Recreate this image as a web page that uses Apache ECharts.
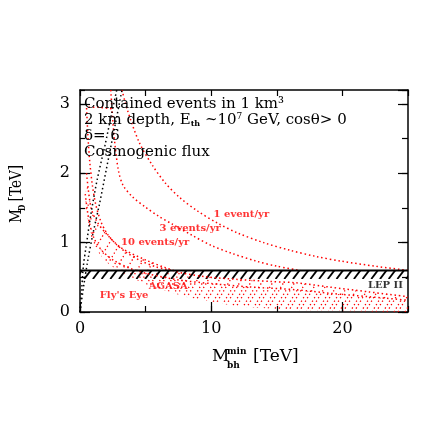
<!DOCTYPE html>
<html><head><meta charset="utf-8">
<script src="https://cdn.jsdelivr.net/npm/echarts@6/dist/echarts.min.js"></script>
<style>html,body{margin:0;padding:0;background:#fff}#c{width:431px;height:431px}</style>
</head><body><div id="c"></div>
<script>
// ---- data ----
const oneEventX = [3.2, 3.6, 4.5, 5.5, 6.5, 7.6, 9, 10.5, 12, 14, 16, 18, 20, 22.5, 25];
const oneEventY = [3.2, 2.92, 2.45, 2.12, 1.86, 1.65, 1.45, 1.28, 1.14, 1.0, 0.89, 0.8, 0.73, 0.66, 0.6];
const threeEventsX = [2.35, 2.5, 2.7, 2.95, 3.3, 4.0, 5.0, 6.0, 7.0, 8.5, 10, 11.5, 13.5, 15, 16.8];
const threeEventsY = [3.2, 2.75, 2.35, 2.02, 1.82, 1.66, 1.51, 1.38, 1.27, 1.11, 0.96, 0.85, 0.73, 0.66, 0.6];
const tenEventsX = [2.4, 1.4, 0.5, 0.6, 0.75, 0.95, 1.2, 1.6, 2.1, 2.8, 3.6, 4.6, 5.8, 7.0];
const tenEventsY = [2.93, 2.95, 2.95, 2.55, 2.15, 1.82, 1.55, 1.3, 1.12, 0.97, 0.85, 0.74, 0.65, 0.6];
const agasaX = [0.5, 0.84, 1.3, 1.9, 3.1, 5.0, 6.5, 7.6, 9.5, 12, 14.5, 16.5, 19, 22, 25];
const agasaY = [2.0, 1.5, 1.3, 1.15, 0.93, 0.75, 0.64, 0.57, 0.51, 0.47, 0.44, 0.42, 0.36, 0.29, 0.22];
const flyEyeX = [0.4, 0.7, 1.1, 1.7, 2.6, 3.8, 5.2, 7.6, 10, 13, 16.5, 19, 22, 25];
const flyEyeY = [1.7, 1.3, 1.05, 0.88, 0.74, 0.63, 0.55, 0.46, 0.41, 0.36, 0.32, 0.27, 0.22, 0.17];
const hatchFloorX = [0.4, 1, 2, 3, 5, 8, 12, 17, 25];
const hatchFloorY = [1.5, 0.95, 0.72, 0.58, 0.4, 0.22, 0.08, 0.02, 0];
const blackAX = [0, 0.3, 0.6, 1.0, 1.5, 2.0, 2.6, 3.2];
const blackAY = [0, 0.4, 0.75, 1.14, 1.57, 2.05, 2.62, 3.2];
const blackBX = [0, 0.12, 0.25, 0.46, 0.84, 1.3, 1.9, 2.4, 2.8];
const blackBY = [0, 0.3, 0.65, 0.94, 1.42, 1.9, 2.4, 2.85, 3.2];
const lepX = [0, 25];
const lepY = [0.6, 0.6];
const lepFloorY = [0.475, 0.475];
const xTicks = [0, 10, 20];
const yTicks = [0, 1, 2, 3];
const annotations = [
  {name: '1 event/yr', x: 12.3, y: 1.40, color: '#f00'},
  {name: '3 events/yr', x: 8.4, y: 1.20, color: '#f00'},
  {name: '10 events/yr', x: 5.73, y: 1.01, color: '#f00'},
  {name: 'AGASA', x: 6.72, y: 0.375, color: '#f00'},
  {name: "Fly's Eye", x: 3.36, y: 0.245, color: '#f00'},
  {name: 'LEP II', x: 23.28, y: 0.39, color: '#000'}
];

// ---- chart ----
const FONT = '"DejaVu Serif"';
const chart = echarts.init(document.getElementById('c'), null, {renderer: 'canvas'});

function curve(xs, ys, color) {
  return {
    type: 'line', xAxisIndex: 0, yAxisIndex: 0,
    data: xs.map((x, i) => [x, ys[i]]),
    symbol: 'none', showSymbol: false, smooth: 0.3, silent: true, clip: true, z: 4,
    lineStyle: {color: color, width: 1.5, type: [1.5, 2.8]}
  };
}

function hatch(upX, upY, loX, loY, o) {
  return {
    type: 'custom', xAxisIndex: 0, yAxisIndex: 0, data: [0], clip: true, silent: true, z: 3,
    renderItem: function (params, api) {
      const up = upX.map((x, i) => api.coord([x, upY[i]]));
      const lo = loX.map((x, i) => api.coord([x, loY[i]])).reverse();
      const poly = up.concat(lo);
      let x0 = Infinity, x1 = -Infinity, y0 = Infinity, y1 = -Infinity;
      poly.forEach(p => {
        x0 = Math.min(x0, p[0]); x1 = Math.max(x1, p[0]);
        y0 = Math.min(y0, p[1]); y1 = Math.max(y1, p[1]);
      });
      const h = y1 - y0, children = [];
      for (let s = x0 - h * o.slant + o.offset; s <= x1 + 1; s += o.spacing) {
        children.push({type: 'line', shape: {x1: s, y1: y1, x2: s + h * o.slant, y2: y0},
          style: {stroke: o.color, lineWidth: o.width, lineDash: o.dash || null}});
      }
      return {type: 'group', children: children, clipPath: {type: 'polygon', shape: {points: poly}}};
    }
  };
}

const lineStyleAxis = {color: '#000', width: 1.5};
function xAx(pos, interval, len, labels, showLine) {
  return {
    type: 'value', min: 0, max: 25, interval: interval, position: pos, gridIndex: 0,
    axisLine: {show: showLine, onZero: false, lineStyle: lineStyleAxis},
    axisTick: {show: true, inside: true, length: len, lineStyle: {color: '#000', width: 1.2}},
    axisLabel: labels ? {show: true, showMaxLabel: false, color: '#000', fontFamily: FONT, fontSize: 16, margin: 9,
      formatter: v => (xTicks.indexOf(v) >= 0 ? String(v) : '')} : {show: false},
    splitLine: {show: false}
  };
}
function yAx(pos, interval, len, labels, showLine) {
  return {
    type: 'value', min: 0, max: 3.2, interval: interval, position: pos, gridIndex: 0,
    axisLine: {show: showLine, onZero: false, lineStyle: lineStyleAxis},
    axisTick: {show: true, inside: true, length: len, lineStyle: {color: '#000', width: 1.2}},
    axisLabel: labels ? {show: true, showMaxLabel: false, color: '#000', fontFamily: FONT, fontSize: 16, margin: 10,
      formatter: v => (yTicks.indexOf(v) >= 0 ? String(v) : '')} : {show: false},
    splitLine: {show: false}
  };
}

const redHatch = {slant: 0.6, spacing: 11, offset: 0, color: '#f00', width: 1.3, dash: [1.3, 2.7]};
const redHatch2 = {slant: 0.6, spacing: 11, offset: 5.5, color: '#f00', width: 1.3, dash: [1.3, 2.7]};
const blackHatch = {slant: 0.75, spacing: 8.7, offset: 2, color: '#000', width: 1.8};

const series = [
  hatch(agasaX, agasaY, hatchFloorX, hatchFloorY, redHatch),
  hatch(flyEyeX, flyEyeY, hatchFloorX, hatchFloorY, redHatch2),
  hatch(lepX, lepY, lepX, lepFloorY, blackHatch),
  curve(oneEventX, oneEventY, '#f00'),
  curve(threeEventsX, threeEventsY, '#f00'),
  curve(tenEventsX, tenEventsY, '#f00'),
  curve(agasaX, agasaY, '#f00'),
  curve(flyEyeX, flyEyeY, '#f00'),
  curve(blackAX, blackAY, '#000'),
  curve(blackBX, blackBY, '#000'),
  {
    type: 'line', xAxisIndex: 0, yAxisIndex: 0, data: lepX.map((x, i) => [x, lepY[i]]),
    symbol: 'none', silent: true, z: 5, lineStyle: {color: '#000', width: 2}
  },
  {
    type: 'scatter', xAxisIndex: 0, yAxisIndex: 0, symbolSize: 0, silent: true, z: 6,
    data: annotations.map(a => ({name: a.name, value: [a.x, a.y],
      label: {color: a.color}})),
    label: {show: true, position: 'inside', formatter: p => p.name,
      fontFamily: FONT, fontWeight: 'bold', fontSize: 10}
  }
];

const TXT = '15px ' + FONT;
const option = {
  animation: false,
  backgroundColor: '#fff',
  grid: {left: 80, right: 23, top: 90, bottom: 119, containLabel: false},
  xAxis: [
    xAx('bottom', 10, 10, true, true),
    xAx('bottom', 5, 6, false, false),
    xAx('top', 5, 6, false, true)
  ],
  yAxis: [
    yAx('left', 1, 10, true, true),
    yAx('left', 0.5, 5, false, false),
    yAx('right', 1, 10, false, true),
    yAx('right', 0.5, 6, false, false)
  ],
  series: series,
  graphic: [
    {type: 'text', x: 84, y: 104, z: 10, style: {text: 'Contained events in 1 km\u00b3', font: TXT, fill: '#000', verticalAlign: 'middle'}},
    {type: 'text', x: 84, y: 120, z: 10, style: {
      text: '2 km depth, E{sub|th} ~10{sup|7} GeV, cos\u03b8> 0', font: TXT, fill: '#000', verticalAlign: 'middle',
      rich: {sub: {fontSize: 8, fontWeight: 'bold', fontFamily: 'DejaVu Serif', verticalAlign: 'bottom', lineHeight: 12},
             sup: {fontSize: 9, fontFamily: 'DejaVu Serif', verticalAlign: 'top', lineHeight: 12}}}},
    {type: 'text', x: 84, y: 136, z: 10, style: {text: '\u03b4= 6', font: TXT, fill: '#000', verticalAlign: 'middle'}},
    {type: 'text', x: 84, y: 152, z: 10, style: {text: 'Cosmogenic flux', font: TXT, fill: '#000', verticalAlign: 'middle'}},
    {type: 'group', x: 212, y: 357, children: [
      {type: 'text', x: 0, y: 0, style: {text: 'M', font: '17px ' + FONT, fill: '#000', verticalAlign: 'middle'}},
      {type: 'text', x: 15, y: -5, style: {text: 'min', font: 'bold 9px ' + FONT, fill: '#000', verticalAlign: 'middle'}},
      {type: 'text', x: 15, y: 9, style: {text: 'bh', font: 'bold 9px ' + FONT, fill: '#000', verticalAlign: 'middle'}},
      {type: 'text', x: 41, y: 0, style: {text: '[TeV]', font: '17px ' + FONT, fill: '#000', verticalAlign: 'middle'}}
    ]},
    {type: 'group', x: 17, y: 223, rotation: Math.PI / 2, scaleX: 0.8, children: [
      {type: 'text', x: 0, y: 0, style: {text: 'M', font: '17px ' + FONT, fill: '#000', verticalAlign: 'middle'}},
      {type: 'text', x: 15, y: 6, style: {text: 'D', font: 'bold 9px ' + FONT, fill: '#000', verticalAlign: 'middle'}},
      {type: 'text', x: 27, y: 0, style: {text: '[TeV]', font: '17px ' + FONT, fill: '#000', verticalAlign: 'middle'}}
    ]}
  ]
};
chart.setOption(option);
</script>
</body></html>
